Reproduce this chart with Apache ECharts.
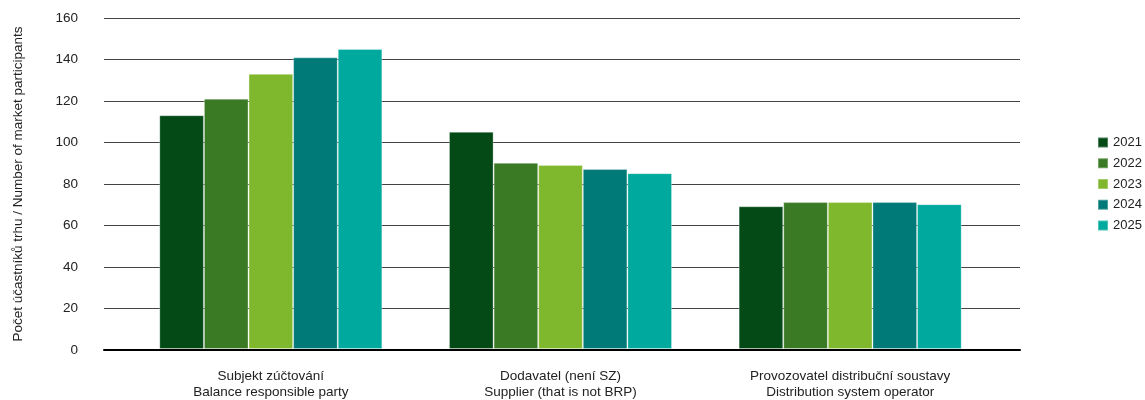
<!DOCTYPE html>
<html><head><meta charset="utf-8">
<script src="https://cdn.jsdelivr.net/npm/echarts@6/dist/echarts.min.js"></script>
<style>html,body{margin:0;padding:0;background:#fff}#c{width:1145px;height:400px}</style>
</head><body><div id="c"></div>
<script>
const categories = ["Subjekt zúčtování\nBalance responsible party", "Dodavatel (není SZ)\nSupplier (that is not BRP)", "Provozovatel distribuční soustavy\nDistribution system operator"];
const years = ["2021", "2022", "2023", "2024", "2025"];
const v2021 = [113, 105, 69];
const v2022 = [121, 90, 71];
const v2023 = [133, 89, 71];
const v2024 = [141, 87, 71];
const v2025 = [145, 85, 70];
const yTicks = [0, 20, 40, 60, 80, 100, 120, 140, 160];
const colors = ["#034a16", "#3b7a25", "#80b82d", "#007a78", "#00a99d"];
const values = [v2021, v2022, v2023, v2024, v2025];
const font = "Liberation Sans, Arial, sans-serif";
const yMin = yTicks[0], yMax = yTicks[yTicks.length-1], yStep = yTicks[1]-yTicks[0];
const chart = echarts.init(document.getElementById('c'));
chart.setOption({
  animation: false,
  textStyle: {fontFamily: font},
  grid: [
    {left: 104, right: 125, top: 18, bottom: 50, containLabel: false},
    {left: 126, right: 150, top: 18, bottom: 50, containLabel: false}
  ],
  legend: {
    orient: 'vertical', left: 1092, top: 131, itemWidth: 10, itemHeight: 10, itemGap: 7.75,
    icon: 'rect', textStyle: {fontSize: 13, color: '#222', fontFamily: font},
    data: years
  },
  xAxis: [
    {gridIndex: 0, type: 'value', min: 0, max: 1, axisLabel: {show: false}, axisTick: {show: false},
     splitLine: {show: false}, axisLine: {show: true, onZero: true, lineStyle: {color: '#000', width: 2}}},
    {gridIndex: 1, type: 'category', data: categories,
     axisLine: {show: false}, axisTick: {show: false},
     axisLabel: {fontSize: 13.5, color: '#222', lineHeight: 16, margin: 19, fontFamily: font}}
  ],
  yAxis: [
    {gridIndex: 0, type: 'value', min: yMin, max: yMax, interval: yStep,
     name: 'Počet účastníků trhu / Number of market participants',
     nameLocation: 'middle', nameGap: 79, nameRotate: 90,
     nameTextStyle: {fontSize: 13.5, color: '#222', fontFamily: font},
     axisLine: {show: false}, axisTick: {show: false},
     axisLabel: {fontSize: 13.5, color: '#222', margin: 26, fontFamily: font},
     splitLine: {lineStyle: {color: '#444', width: 1}}},
    {gridIndex: 1, type: 'value', min: yMin, max: yMax, interval: yStep,
     axisLine: {show: false}, axisTick: {show: false}, axisLabel: {show: false}, splitLine: {show: false}}
  ],
  series: years.map((y, i) => ({
    name: y, type: 'bar', xAxisIndex: 1, yAxisIndex: 1, data: values[i], barGap: '0%', barCategoryGap: '23%',
    itemStyle: {color: colors[i], borderColor: 'rgba(255,255,255,0.3)', borderWidth: 1}
  }))
});
</script></body></html>
